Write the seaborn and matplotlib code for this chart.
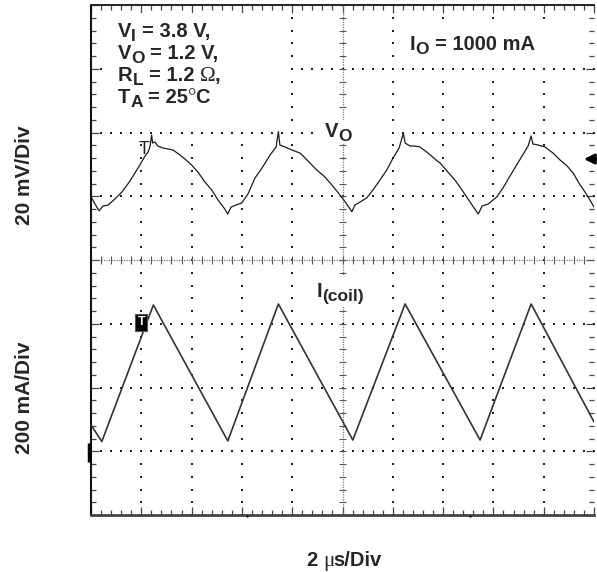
import numpy as np
import pandas as pd
import matplotlib
matplotlib.use("Agg")
import matplotlib.pyplot as plt
from matplotlib.patches import Rectangle
import seaborn as sns

# ---------------- data (time in µs, level in screen divisions) ----------------
vo_time_us = [0.00, 0.16, 0.32, 0.48, 0.68, 0.95, 1.23, 1.55, 1.87, 2.15, 2.27, 2.35,
              2.41, 2.45, 2.54, 2.66, 2.86, 3.06, 3.26, 3.54, 3.78, 4.00, 4.25, 4.53,
              4.80, 5.05, 5.29, 5.44, 5.57, 5.77, 5.99, 6.24, 6.52, 6.80, 7.12, 7.36,
              7.45, 7.51, 7.71, 7.99, 8.31, 8.63, 8.97, 9.26, 9.58, 9.90, 10.14, 10.37,
              10.50, 10.70, 10.96, 11.21, 11.49, 11.76, 12.01, 12.25, 12.42, 12.49, 12.68,
              12.88, 13.08, 13.40, 13.72, 13.88, 14.19, 14.47, 14.67, 14.91, 15.15, 15.40,
              15.55, 15.79, 16.13, 16.38, 16.66, 16.90, 17.14, 17.38, 17.50, 17.57, 17.77,
              18.05, 18.37, 18.65, 18.93, 19.17, 19.40, 19.64, 19.84, 20.00]
vo_div = [0.993, 0.878, 0.773, 0.847, 0.863, 0.957, 1.067, 1.239, 1.443, 1.631, 1.694, 1.788,
          1.961, 1.835, 1.851, 1.788, 1.757, 1.741, 1.725, 1.647, 1.569, 1.490, 1.380, 1.224,
          1.098, 0.941, 0.816, 0.722, 0.831, 0.863, 0.894, 1.035, 1.286, 1.443, 1.647, 1.773,
          2.013, 1.804, 1.773, 1.725, 1.678, 1.553, 1.412, 1.318, 1.176, 1.020, 0.894, 0.758,
          0.863, 0.910, 0.973, 1.098, 1.255, 1.412, 1.600, 1.757, 1.987, 1.835, 1.788,
          1.788, 1.773, 1.678, 1.569, 1.522, 1.380, 1.255, 1.145, 1.004, 0.863, 0.722,
          0.847, 0.878, 0.988, 1.129, 1.318, 1.475, 1.631, 1.788, 1.945, 1.820, 1.804,
          1.773, 1.678, 1.569, 1.475, 1.365, 1.208, 1.067, 0.941, 0.830]

icoil_time_us = [0.00, 0.43, 2.48, 5.44, 7.45, 10.41, 12.49, 15.47, 17.50, 20.00]
icoil_div = [-2.588, -2.847, -0.706, -2.839, -0.690, -2.824, -0.690, -2.824, -0.690, -2.540]

# rich texts: (string, kind) with kind n = normal bold, s = subscript, g = serif glyph
params_text = [
    [("V", "n"), ("I", "s"), (" = 3.8 V,", "n")],
    [("V", "n"), ("O", "s"), (" = 1.2 V,", "n")],
    [("R", "n"), ("L", "s"), (" = 1.2", "n"), (" Ω", "g"), (",", "n")],
    [("T", "n"), ("A", "s"), (" = 25", "n"), ("°", "g"), ("C", "n")],
]
load_text = [("I", "n"), ("O", "s"), (" = 1000 mA", "n")]
vo_label = [("V", "n"), ("O", "s")]
icoil_label = [("I", "n"), ("(coil)", "s")]
ylabel_top = "20 mV/Div"
ylabel_bottom = "200 mA/Div"
xlabel = [("2", "n"), (" μ", "g"), ("s/Div", "n")]

# ---------------- style ----------------
sns.set_style("white")
plt.rcParams["font.family"] = ["Liberation Sans", "DejaVu Sans"]
plt.rcParams["font.weight"] = "bold"

W, H = 597, 572
fig = plt.figure(figsize=(W / 100, H / 100), dpi=100)
fig.patch.set_facecolor("white")
ax = fig.add_axes([91 / W, 57 / H, 503 / W, 510 / H])
ax.set_xlim(0, 20)
ax.set_ylim(-4, 4)

# ---------------- oscilloscope graticule ----------------
xmin = np.round(np.arange(0, 20.001, 0.4), 3)
ymin = np.round(np.arange(-4, 4.001, 0.2), 3)
gc = "#222222"
for t in [2, 4, 6, 8, 12, 14, 16, 18]:
    ax.plot(np.full_like(ymin, t), ymin, ls="none", marker="s", ms=1.5, mew=0,
            color=gc, zorder=1)
for v in [-3, -2, -1, 1, 2, 3]:
    ax.plot(xmin, np.full_like(xmin, v), ls="none", marker="s", ms=1.5, mew=0,
            color=gc, zorder=1)
ax.axhline(0, color="#777777", lw=0.9, ls=(0, (1, 1)), zorder=1)
ax.axvline(10, color="#777777", lw=0.9, ls=(0, (1, 1)), zorder=1)
ax.vlines(xmin, -0.06, 0.06, color="#555555", lw=0.8, zorder=1)
ax.hlines(ymin, 10 - 0.15, 10 + 0.15, color="#555555", lw=0.8, zorder=1)

ax.set_xticks(np.arange(0, 20.001, 2))
ax.set_xticks(xmin, minor=True)
ax.set_yticks(np.arange(-4, 4.001, 1))
ax.set_yticks(ymin, minor=True)
ax.tick_params(which="both", direction="in", top=True, right=True, bottom=True,
               left=True, labelbottom=False, labelleft=False, color="#444444",
               width=0.9)
ax.tick_params(which="major", length=6)
ax.tick_params(which="minor", length=3.5)

ax.spines["right"].set_visible(False)
ax.spines["left"].set_linewidth(1.5)
ax.spines["left"].set_color("#111111")
ax.spines["top"].set_linewidth(1.4)
ax.spines["top"].set_color("#222222")
ax.spines["bottom"].set_linewidth(2.0)
ax.spines["bottom"].set_color("#444444")

for (x0, y0, w, h) in [(0.62, 2.07, 7.21, 1.80), (12.15, 3.11, 7.16, 0.58),
                       (8.97, 1.83, 2.92, 0.37), (8.38, -0.74, 2.91, 0.50)]:
    ax.add_patch(Rectangle((x0, y0), w, h, facecolor="white", edgecolor="none",
                           zorder=2))

# ---------------- traces ----------------
df_vo = pd.DataFrame({"t": vo_time_us, "v": vo_div})
df_i = pd.DataFrame({"t": icoil_time_us, "v": icoil_div})
sns.lineplot(data=df_vo, x="t", y="v", ax=ax, color="#1c1c1c", lw=0.9,
             estimator=None, sort=False, zorder=3)
sns.lineplot(data=df_i, x="t", y="v", ax=ax, color="#333333", lw=1.2,
             estimator=None, sort=False, zorder=3)
ax.set_xlabel("")
ax.set_ylabel("")

# trigger / channel markers
ax.text(2.09, 1.74, "T", fontsize=13, fontweight="normal", color="#222222",
        ha="center", va="center", zorder=4)
ax.text(2.00, -0.98, "T", fontsize=9, color="white", ha="center", va="center",
        zorder=4, bbox=dict(boxstyle="square,pad=0.18", facecolor="black",
                            edgecolor="#555555", lw=0.8))
ax.plot([-0.06, -0.06], [-2.87, -3.17], color="black", lw=2.5, clip_on=False,
        solid_capstyle="butt", zorder=4)
ax.annotate("", xy=(19.6, 1.584), xytext=(20.2, 1.584), annotation_clip=False,
            arrowprops=dict(arrowstyle="-|>", color="black", lw=2.0,
                            mutation_scale=15, shrinkA=0, shrinkB=0), zorder=4)
ax.plot([6.19, 15.07], [-4.02, -4.02], ls="none", marker="s", ms=1.4, mew=0,
        color="black", clip_on=False, zorder=4)

# ---------------- text ----------------
fig.canvas.draw()
rend = fig.canvas.get_renderer()


def rich(x_px, base_px, parts, fs, center=False):
    space = fs * 100 / 72 * 0.278
    texts = []
    x = x_px
    for s, kind in parts:
        if s.startswith(" "):
            x += space
        s2 = s.strip()
        if kind == "s":
            t = fig.text(x / W, 1 - (base_px + 4) / H, s2, fontsize=fs * 0.86,
                         fontweight="bold", ha="left", va="baseline")
        elif kind == "g":
            t = fig.text(x / W, 1 - base_px / H, s2, fontsize=fs * 1.05,
                         family=["Liberation Serif"], fontweight="normal",
                         ha="left", va="baseline")
        else:
            t = fig.text(x / W, 1 - base_px / H, s2, fontsize=fs,
                         fontweight="bold", ha="left", va="baseline")
        w = t.get_window_extent(renderer=rend).width
        texts.append((t, x))
        x += w - (1.5 if kind == "g" else 0.0)
    if center:
        shift = (x - x_px) / 2
        for t, xx in texts:
            t.set_x((xx - shift) / W)


fs = 14.5
for i, parts in enumerate(params_text):
    rich(118, 37.2 + 21.9 * i, parts, fs)
rich(410, 49.5, load_text, fs)
rich(325, 137, vo_label, fs)
rich(316.7, 296.7, icoil_label, fs)
rich(344, 566, xlabel, fs, center=True)
fig.text(25 / W, 1 - 175.5 / H, ylabel_top, rotation=90, fontsize=15,
         fontweight="bold", ha="center", va="center")
fig.text(25 / W, 1 - 397.5 / H, ylabel_bottom, rotation=90, fontsize=15,
         fontweight="bold", ha="center", va="center")

fig.savefig("out.png", dpi=100, facecolor="white")
